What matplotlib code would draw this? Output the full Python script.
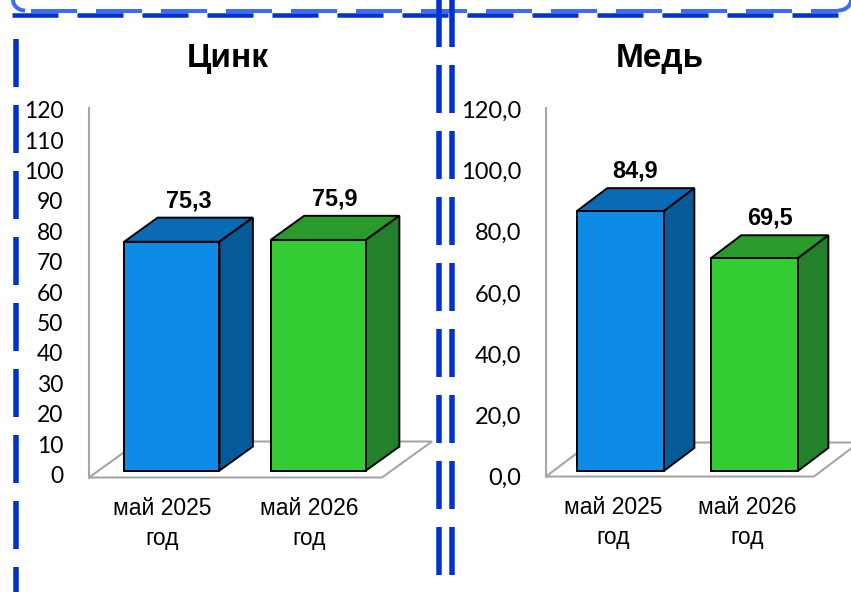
import matplotlib
matplotlib.use('Agg')
import numpy as np
import matplotlib.pyplot as plt
from matplotlib.patches import Polygon
from matplotlib.lines import Line2D
import matplotlib.transforms as mtransforms

plt.rcParams['lines.scale_dashes'] = False

W, H, DPI = 851, 592, 100

# ---------------- data ----------------
categories = ['май 2025\nгод', 'май 2026\nгод']
zinc_title = 'Цинк'
copper_title = 'Медь'
zinc_values = [75.3, 75.9]
copper_values = [84.9, 69.5]
zinc_labels = ['75,3', '75,9']
copper_labels = ['84,9', '69,5']
zinc_ticks = list(range(0, 121, 10))
zinc_ticklabels = [str(t) for t in zinc_ticks]
copper_ticks = list(range(0, 121, 20))
copper_ticklabels = [f'{t},0' for t in copper_ticks]

front_colors = ['#0D8BE6', '#33CC33']
top_colors = ['#0A6BB4', '#2A9B2A']
side_colors = ['#055B98', '#22812A']

fig = plt.figure(figsize=(W / DPI, H / DPI), dpi=DPI)
fig.patch.set_facecolor('white')

TICK_FONT = 'Lato'
CAT_FONT = 'Liberation Sans'
GRID_GREY = '#A6A6A6'


def draw_panel(values, labels, ticks, ticklabels, title, title_x,
               x0, right, y0, top, ux, k, depth_px, dfront, dback,
               bw=0.65, ytick_pad=18.5, ylabel_shift=0, ytick_size=16.5):
    ax = fig.add_axes([x0 / W, 1 - y0 / H, (right - x0) / W, (y0 - top) / H])
    ax.set_xlim(0, (right - x0) / ux)
    ax.set_ylim(0, (y0 - top) / k)
    ax.patch.set_alpha(0)
    for s in ['top', 'right', 'bottom']:
        ax.spines[s].set_visible(False)
    ax.spines['left'].set_color(GRID_GREY)
    ax.spines['left'].set_linewidth(1.5)

    # depth vector: pixels right / pixels up  ->  data units
    ddx = depth_px[0] / ux
    ddy = depth_px[1] / k
    n = len(values)
    floor = Polygon([(0, 0), (n, 0), (n + ddx, ddy), (ddx, ddy)], closed=True,
                    fc='white', ec=GRID_GREY, lw=1.5, clip_on=False, zorder=1)
    ax.add_patch(floor)

    fx, fy = dfront * ddx, dfront * ddy
    bx, by = dback * ddx, dback * ddy
    for i, v in enumerate(values):
        xl = i + (1 - bw) / 2
        xr = xl + bw
        ax.bar(i + 0.5 + fx, v, width=bw, bottom=fy, color=front_colors[i],
               edgecolor='black', linewidth=1.4, zorder=4, clip_on=False)
        top_poly = [(xl + fx, v + fy), (xr + fx, v + fy), (xr + bx, v + by), (xl + bx, v + by)]
        side_poly = [(xr + fx, fy), (xr + bx, by), (xr + bx, v + by), (xr + fx, v + fy)]
        ax.add_patch(Polygon(top_poly, closed=True, fc=top_colors[i], ec='black',
                             lw=1.4, zorder=3, clip_on=False))
        ax.add_patch(Polygon(side_poly, closed=True, fc=side_colors[i], ec='black',
                             lw=1.4, zorder=3, clip_on=False))
        ax.annotate(labels[i], xy=(i + 0.5 + (fx + bx) / 2, v + (fy + by) / 2),
                    xytext=(0, 21), textcoords='offset points', ha='center', va='center',
                    fontsize=16.8, fontweight='bold', family='Liberation Sans',
                    annotation_clip=False, zorder=6)

    ax.set_yticks(ticks)
    ax.set_yticklabels(ticklabels, family=TICK_FONT, fontsize=ytick_size)
    ax.tick_params(axis='y', length=0, pad=ytick_pad)
    if ylabel_shift:
        off = mtransforms.ScaledTranslation(0, ylabel_shift / DPI, fig.dpi_scale_trans)
        for lab in ax.get_yticklabels():
            lab.set_transform(lab.get_transform() + off)
    ax.set_xticks([i + 0.5 for i in range(n)])
    ax.set_xticklabels(categories, family=CAT_FONT, fontsize=16.5, linespacing=1.4)
    ax.tick_params(axis='x', length=0, pad=14)

    fig.text(title_x / W, 1 - 59 / H, title, ha='center', va='center',
             fontsize=24, fontweight='bold', family='Liberation Sans')
    return ax


draw_panel(zinc_values, zinc_labels, zinc_ticks, zinc_ticklabels, zinc_title, 228,
           x0=89, right=440, y0=477.5, top=108, ux=146.5, k=3.04,
           depth_px=(50, 36), dfront=0.19, dback=0.86, ytick_pad=18.5, ylabel_shift=3,
           ytick_size=16.5)

draw_panel(copper_values, copper_labels, copper_ticks, copper_ticklabels, copper_title, 660,
           x0=546, right=851, y0=476.5, top=108, ux=134, k=3.06,
           depth_px=(45, 34), dfront=0.16, dback=0.84, ytick_pad=18, ytick_size=17)

# ---------------- decorative dashed frames ----------------
DARK = '#0033CC'
LIGHT = '#3D6BF5'


def px_line(xs, ys, color, lw_px, on, off, offset=0, z=10):
    xs = np.asarray(xs, float) / W
    ys = 1 - np.asarray(ys, float) / H
    ln = Line2D(xs, ys, transform=fig.transFigure, color=color, lw=lw_px * 0.72,
                linestyle=(offset * 0.72, (on * 0.72, off * 0.72)), solid_capstyle='butt',
                dash_capstyle='butt', zorder=z)
    fig.add_artist(ln)


# light top line with rounded ends
t = np.linspace(0, np.pi / 2, 12)
px_line(13 + 12 * (1 - np.cos(t)), 0 + 10.5 * np.sin(t), LIGHT, 4, 100, 0)
px_line(851 - 13 * (1 - np.cos(t)), 0 + 10.5 * np.sin(t), LIGHT, 4, 100, 0)
px_line([25, 838], [10.5, 10.5], LIGHT, 4, 46, 19, offset=-6)
# dark top line
px_line([12, 860], [14.5, 14.5], DARK, 4.5, 46, 19)
# vertical dashed lines
px_line([16, 16], [39, 600], DARK, 5.5, 48, 18)
px_line([439, 439], [-17, 600], DARK, 5.5, 48, 18)
px_line([452, 452], [-10, 600], DARK, 5.5, 48, 18)

fig.savefig('out.png', dpi=DPI)
